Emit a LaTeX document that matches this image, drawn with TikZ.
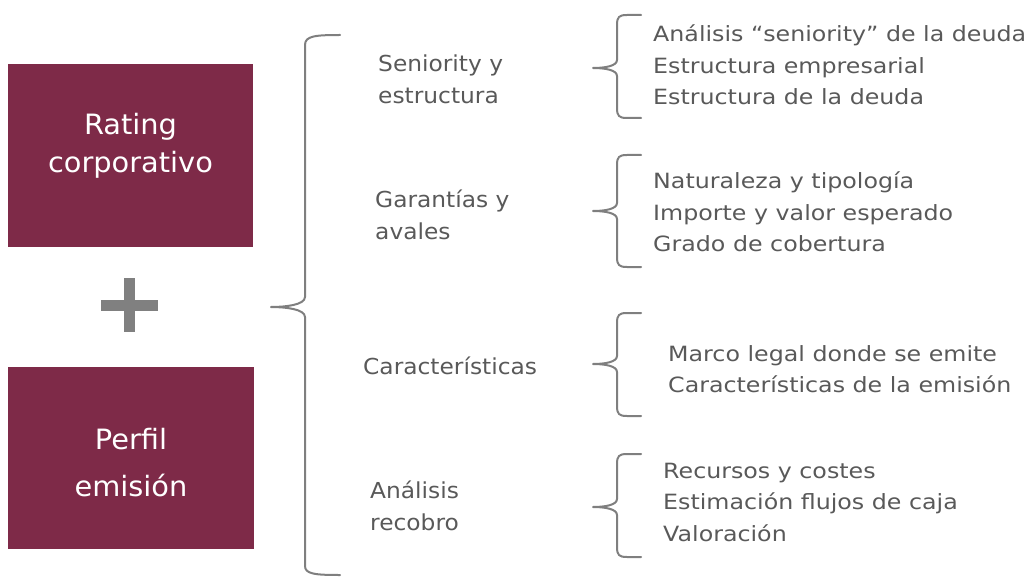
\documentclass[tikz,border=0pt]{standalone}
\usepackage{fontspec}
\setmainfont{DejaVu Sans}
\newfontfamily\boxfont[FakeStretch=1.03]{DejaVu Sans}
\newfontfamily\catfont[FakeStretch=1.06]{DejaVu Sans}
\newfontfamily\itemfont[FakeStretch=1.13]{DejaVu Sans}
\definecolor{boxred}{HTML}{7E2A48}
\definecolor{txtgray}{HTML}{595959}
\definecolor{linegray}{HTML}{7F7F7F}
\definecolor{plusgray}{HTML}{808080}
\begin{document}
\begin{tikzpicture}[x=1pt,y=-1pt,
  mainbox/.style={fill=boxred,draw=none,inner sep=0pt},
  boxtext/.style={text=white,align=center,inner sep=0pt},
  cattext/.style={text=txtgray,align=left,anchor=west,inner sep=0pt,
    font=\catfont\fontsize{22}{32}\selectfont},
  itemtext/.style={text=txtgray,align=left,anchor=west,inner sep=0pt,
    font=\itemfont\fontsize{21}{31.5}\selectfont},
  bracepath/.style={draw=linegray,line width=2pt,line cap=round,line join=round}
]
\useasboundingbox (0,0) rectangle (1032,577);
% boxes
\node[mainbox,minimum width=245pt,minimum height=183pt] (rc) at (130.5,155.5) {};
\node[boxtext,font=\boxfont\fontsize{28}{38}\selectfont] (rct) at (130.5,146) {Rating\\corporativo};
\node[mainbox,minimum width=246pt,minimum height=182pt] (pe) at (131,458) {};
\node[boxtext,font=\boxfont\fontsize{28}{47}\selectfont] (pet) at (131,463) {Perfil\\emisión};
% plus
\fill[plusgray] (101,300) rectangle (158,311);
\fill[plusgray] (124,278) rectangle (135,332);
% big brace
\coordinate (bigtip) at (271,307);
\draw[bracepath] (340,35) .. controls (315,35) and (305,36) .. (305,45)
  -- (305,297) .. controls (305,305) and (285,307) .. (bigtip)
  .. controls (285,307) and (305,309) .. (305,317)
  -- (305,566) .. controls (305,574) and (315,575) .. (340,575);
% categories
\node[cattext] (c1) at (378,79) {Seniority y\\estructura};
\node[cattext] (c2) at (375,215) {Garantías y\\avales};
\node[cattext] (c3) at (363,366) {Características};
\node[cattext] (c4) at (370,506) {Análisis\\recobro};
% small braces
\foreach \n/\t/\m/\b in {1/15/68/118, 2/155/211/267, 3/313/364/416, 4/454/507/557}{
  \coordinate (tip\n) at (593,\m);
  \draw[bracepath] (641,\t) -- (627,\t) .. controls (619,\t) and (617,\t+2) .. (617,\t+10)
    -- (617,\m-8) .. controls (617,\m-2) and (605,\m) .. (tip\n)
    .. controls (605,\m) and (617,\m+2) .. (617,\m+8)
    -- (617,\b-10) .. controls (617,\b-2) and (619,\b) .. (627,\b) -- (641,\b);
}
% items
\node[itemtext] (i1) at (653,65) {Análisis “seniority” de la deuda\\Estructura empresarial\\Estructura de la deuda};
\node[itemtext] (i2) at (653,212) {Naturaleza y tipología\\Importe y valor esperado\\Grado de cobertura};
\node[itemtext] (i3) at (668,369) {Marco legal donde se emite\\Características de la emisión};
\node[itemtext] (i4) at (663,502) {Recursos y costes\\Estimación flujos de caja\\Valoración};
\end{tikzpicture}
\end{document}
